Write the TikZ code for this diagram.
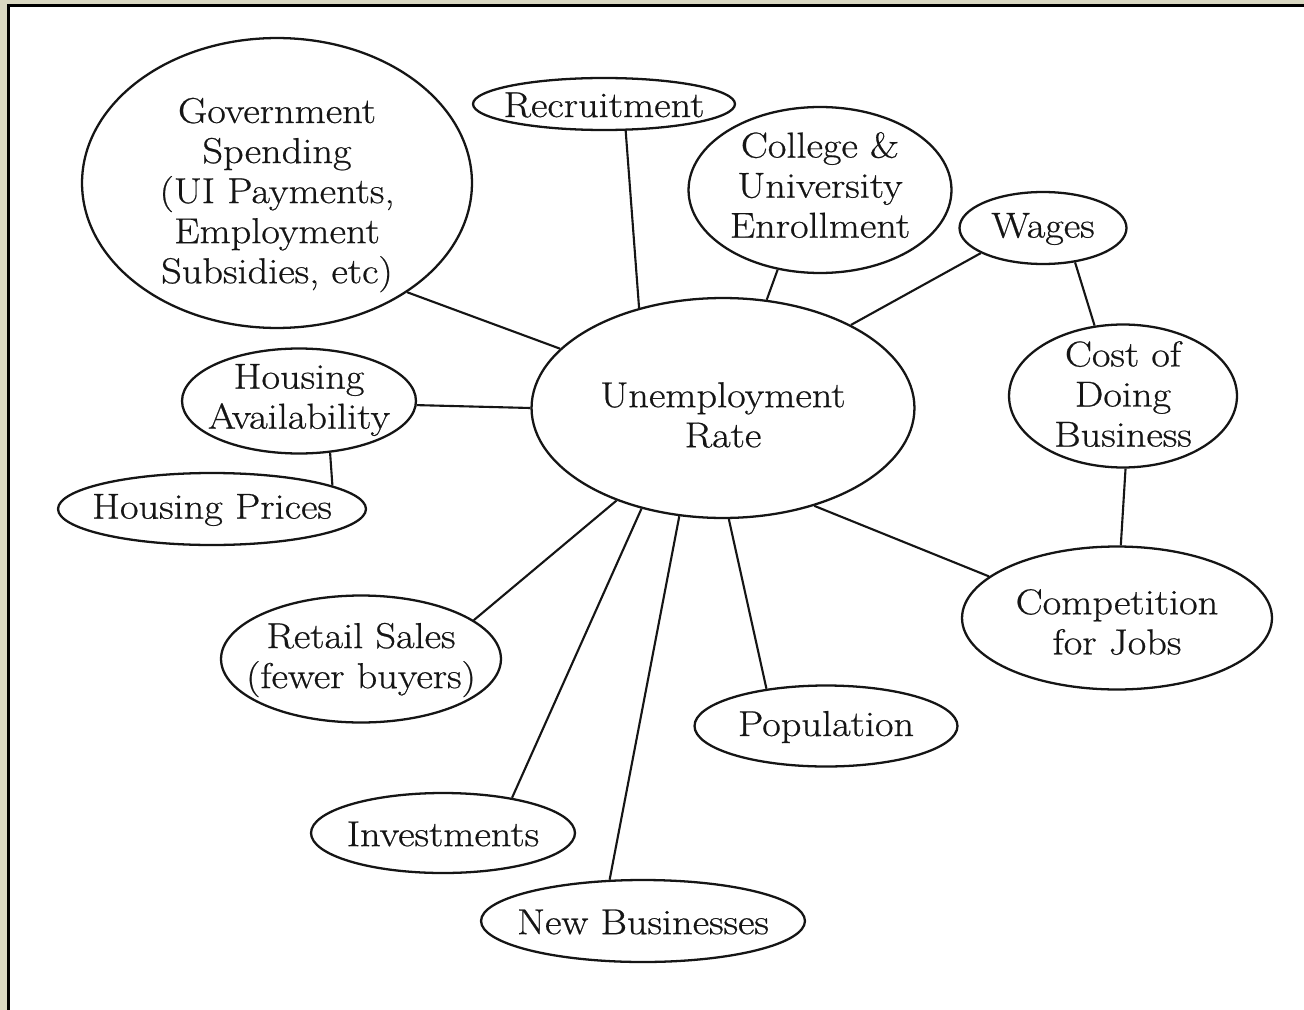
\documentclass[tikz,border=0pt]{standalone}
\usepackage{fontspec}
\setmainfont{Latin Modern Roman}[FakeStretch=1.12, FakeBold=0.6]
\usepackage{tikz}
\usetikzlibrary{shapes.geometric}
\definecolor{FrameColor}{HTML}{DAD8C2}
\definecolor{InkColor}{HTML}{151515}
\colorlet{PaperColor}{white}

\begin{document}
\begin{tikzpicture}[
      x=0.02cm, y=-0.02cm,
      bubble/.style={ellipse, draw=InkColor, line width=1.3pt, fill=PaperColor, inner sep=0pt},
      words/.style={align=center, text=InkColor, font=\fontsize{20.5}{22.8}\selectfont},
      every label/.style={words, yshift=-0.02cm},
      link/.style={draw=InkColor, line width=1.2pt},
  ]
  % ┌───────┐
  % │ Frame │
  % └───────┘
  \useasboundingbox (0,0) rectangle (1304,1010);
  \clip (0,0) rectangle (1304,1010);
  \fill[FrameColor] (0,0) rectangle (1304,1010);
  \draw[line width=1.7pt, fill=PaperColor] (8.5,5.5) rectangle (1320,1030);
  % ┌─────────┐
  % │ Bubbles │
  % └─────────┘
  \node[bubble, minimum width=7.66cm, minimum height=4.4cm, label={[yshift=-0.12cm]center:{Unemployment\\Rate}}] (unemp) at (723,408) {};
  \node[bubble, minimum width=7.8cm, minimum height=5.8cm, label={[yshift=-0.22cm]center:{Government\\Spending\\(UI Payments,\\Employment\\Subsidies, etc)}}] (gov) at (277,183) {};
  \node[bubble, minimum width=5.24cm, minimum height=1.04cm, label={center:{Recruitment}}] (recruit) at (604,104) {};
  \node[bubble, minimum width=5.26cm, minimum height=3.32cm, label={[yshift=0.12cm]center:{College \&\\University\\Enrollment}}] (college) at (820,190) {};
  \node[bubble, minimum width=3.34cm, minimum height=1.44cm, label={center:{Wages}}] (wages) at (1043,228) {};
  \node[bubble, minimum width=4.56cm, minimum height=2.86cm, label={[yshift=0.06cm]center:{Cost of\\Doing\\Business}}] (cost) at (1123,396) {};
  \node[bubble, minimum width=6.2cm, minimum height=2.86cm, label={[yshift=-0.06cm]center:{Competition\\for Jobs}}] (compete) at (1117,618) {};
  \node[bubble, minimum width=4.68cm, minimum height=2.1cm, label={[yshift=0.04cm]center:{Housing\\Availability}}] (avail) at (299,401) {};
  \node[bubble, minimum width=6.16cm, minimum height=1.44cm, label={center:{Housing Prices}}] (prices) at (212,509) {};
  \node[bubble, minimum width=5.6cm, minimum height=2.54cm, label={center:{Retail Sales\\(fewer buyers)}}] (retail) at (361,659) {};
  \node[bubble, minimum width=5.26cm, minimum height=1.62cm, label={center:{Population}}] (population) at (826,726) {};
  \node[bubble, minimum width=5.28cm, minimum height=1.6cm, label={center:{Investments}}] (invest) at (443,833) {};
  \node[bubble, minimum width=6.48cm, minimum height=1.64cm, label={center:{New Businesses}}] (newbiz) at (643,921) {};
  % ┌───────┐
  % │ Links │
  % └───────┘
  \draw[link] (unemp.160) -- (gov.320);
  \draw[link] (unemp.130) -- (recruit.309);
  \draw[link] (unemp.68) -- (college.242);
  \draw[link] (unemp.33) -- (wages.202);
  \draw[link] (wages.313) -- (cost.112);
  \draw[link] (cost.272) -- (compete.87);
  \draw[link] (unemp.313) -- (compete.162);
  \draw[link] (unemp.180) -- (avail.358);
  \draw[link] (avail.301) -- (prices.11);
  \draw[link] (unemp.221) -- (retail.19);
  \draw[link] (unemp.231) -- (invest.27);
  \draw[link] (unemp.248) -- (newbiz.129);
  \draw[link] (unemp.273) -- (population.148);
  \end{tikzpicture}
\end{document}
